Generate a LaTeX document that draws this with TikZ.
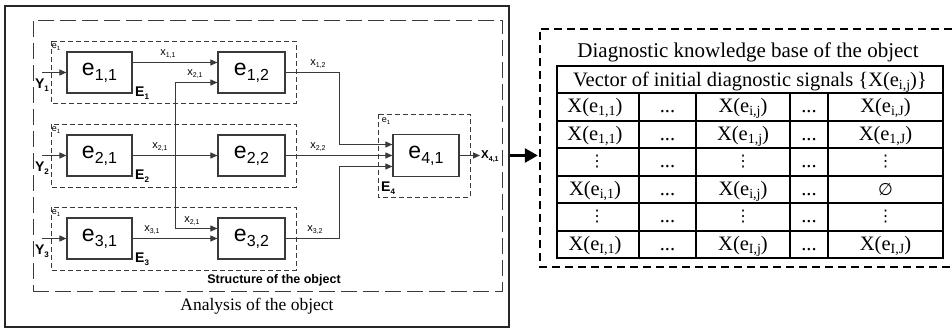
\documentclass[tikz,border=0pt]{standalone}
\usepackage{fontspec}
\setmainfont{Liberation Serif}
\setsansfont{Liberation Sans}
\newfontfamily\symfont{DejaVu Sans}
\usetikzlibrary{arrows.meta}
\definecolor{lineg}{HTML}{3A3A3A}
\newcommand\setfs[1]{\fontsize{#1}{#1}\selectfont}
\newcommand\subx[3]{\raisebox{#1}{\fontsize{#2}{#2}\selectfont #3}}
\begin{document}
\begin{tikzpicture}[x=1pt,y=-1pt,
  elem/.style={draw=lineg, line width=1.1pt, minimum width=65pt, minimum height=41pt, inner sep=0pt, font=\sffamily\setfs{23}},
  ebox/.style={draw=lineg, line width=0.9pt, dash pattern=on 5pt off 3pt},
  sbox/.style={draw=lineg, line width=0.9pt, dash pattern=on 16pt off 6pt},
  sig/.style={draw=lineg, line width=0.9pt, -{Triangle[length=7pt,width=6pt]}},
  wire/.style={draw=lineg, line width=0.9pt},
  xlab/.style={font=\sffamily\setfs{11}, inner sep=0pt},
  elab/.style={font=\sffamily\setfs{9}, inner sep=0pt},
  blab/.style={font=\sffamily\bfseries\setfs{14}, inner sep=0pt},
  cell/.style={font=\setfs{20.5}, inner sep=0pt, anchor=base},
  dcell/.style={font=\symfont\setfs{16}, inner sep=0pt, anchor=center},
  tline/.style={draw=black, line width=2pt},
  bigarr/.style={draw=black, line width=2.6pt, -{Triangle[length=13pt,width=14pt]}}
]
\useasboundingbox (0,0) rectangle (952,328);

% outer analysis box and structure box
\node[draw=black!85, line width=1.2pt, minimum width=504pt, minimum height=321pt, inner sep=0pt] (outer) at (257,166.5) {};
\node[sbox, minimum width=469pt, minimum height=271pt, inner sep=0pt] (struct) at (267.5,155.5) {};
\node[font=\setfs{17.5}, inner sep=0pt] (analysis) at (257,306) {Analysis of the object};
\node[font=\sffamily\bfseries\setfs{12.5}, inner sep=0pt] (structlab) at (274,280) {Structure of the object};

% E boxes
\draw[ebox] (51,41) rectangle (296,103);
\draw[ebox] (51,124) rectangle (296,187);
\draw[ebox] (51,207) rectangle (296,270);
\draw[ebox] (378,114) rectangle (470,197);

% elements
\node[elem] (e11) at (99.5,72.5) {e\subx{-5pt}{16}{1,1}};
\node[elem, minimum width=67pt] (e12) at (251.5,72.5) {e\subx{-5pt}{16}{1,2}};
\node[elem] (e21) at (99.5,155.5) {e\subx{-5pt}{16}{2,1}};
\node[elem, minimum width=67pt] (e22) at (251.5,155.5) {e\subx{-5pt}{16}{2,2}};
\node[elem] (e31) at (99.5,238.5) {e\subx{-5pt}{16}{3,1}};
\node[elem, minimum width=67pt] (e32) at (251.5,238.5) {e\subx{-5pt}{16}{3,2}};
\node[elem, minimum width=66pt, minimum height=42pt] (e41) at (426,155.5) {e\subx{-5pt}{16}{4,1}};

% small e_1 labels and E labels
\node[elab] (l1) at (56,47) {e\subx{-2pt}{6}{1}};
\node[elab] (l2) at (56,130) {e\subx{-2pt}{6}{1}};
\node[elab] (l3) at (56,213) {e\subx{-2pt}{6}{1}};
\node[elab] (l4) at (386,121) {e\subx{-2pt}{6}{1}};
\node[blab, anchor=west] (E1) at (135,93) {E\subx{-3pt}{8}{1}};
\node[blab, anchor=west] (E2) at (135,176) {E\subx{-3pt}{8}{2}};
\node[blab, anchor=west] (E3) at (135,259) {E\subx{-3pt}{8}{3}};
\node[blab, anchor=west] (E4) at (381,188) {E\subx{-3pt}{8}{4}};

% inputs
\coordinate (y1) at (42,72.5);
\coordinate (y2) at (42,155.5);
\coordinate (y3) at (42,238.5);
\draw[sig] (y1) -- (e11.west);
\draw[sig] (y2) -- (e21.west);
\draw[sig] (y3) -- (e31.west);
\node[blab] (Y1) at (42,85) {Y\subx{-3pt}{8}{1}};
\node[blab] (Y2) at (42,168) {Y\subx{-3pt}{8}{2}};
\node[blab] (Y3) at (42,251) {Y\subx{-3pt}{8}{3}};

% internal signals
\draw[sig] ([yshift=10pt]e11.east) -- ([yshift=10pt]e12.west);
\node[xlab] (lx11) at (168,54) {x\subx{-2.5pt}{7}{1,1}};
\draw[sig] (e21.east) -- (e22.west);
\node[xlab] (lx21a) at (160,147) {x\subx{-2.5pt}{7}{2,1}};
\coordinate (br) at (175,155.5);
\draw[sig] (br) |- ([yshift=-10pt]e12.west);
\node[xlab] (lx21b) at (195,74) {x\subx{-2.5pt}{7}{2,1}};
\draw[sig] (br) |- ([yshift=10pt]e32.west);
\node[xlab] (lx21c) at (192,221) {x\subx{-2.5pt}{7}{2,1}};
\draw[sig] (e31.east) -- (e32.west);
\node[xlab] (lx31) at (152,230) {x\subx{-2.5pt}{7}{3,1}};

% to e41
\coordinate (j) at (339,0);
\draw[sig] (e12.east) -- (e12.east -| j) |- ([yshift=11pt]e41.west);
\node[xlab] (lx12) at (318,64) {x\subx{-2.5pt}{7}{1,2}};
\draw[sig] (e22.east) -- (e41.west);
\node[xlab] (lx22) at (318,147) {x\subx{-2.5pt}{7}{2,2}};
\draw[sig] (e32.east) -- (e32.east -| j) |- ([yshift=-11pt]e41.west);
\node[xlab] (lx32) at (315,230) {x\subx{-2.5pt}{7}{3,2}};

% output
\node[font=\sffamily\bfseries\setfs{11.5}, inner sep=1pt, anchor=west] (X41) at (480,157) {X\subx{-3pt}{7}{4,1}};
\draw[sig] (e41.east) -- (X41.west |- e41.east);

% knowledge base box
\node[minimum width=412pt, minimum height=238pt, inner sep=0pt] (kb) at (746,148) {};
\draw[draw=black, line width=1.8pt, dash pattern=on 8pt off 5pt] (kb.north east) -- (kb.north west) -- (kb.south west) -- (kb.south east);
\draw[bigarr, shorten >=2pt] (outer.east |- e41.center) -- (kb.west |- e41.center);

\node[font=\setfs{21}, inner sep=0pt, anchor=base] (kbt) at (748,58) {Diagnostic knowledge base of the object};

% table grid
\draw[tline] (557,66) rectangle (943,258.5);
\foreach \yy in {93.5,121,148.5,176,203.5,231} \draw[tline] (557,\yy) -- (943,\yy);
\foreach \xx in {639,696,790,828} \draw[tline] (\xx,93.5) -- (\xx,258.5);

\node[cell] (hdr) at (750,86.5) {Vector of initial diagnostic signals \{X(e\subx{-3pt}{14}{i,j})\}};

\node[cell] (c11) at (595,113) {X(e\subx{-3pt}{14}{1,1})};
\node[cell] (c12) at (667.5,113) {...};
\node[cell] (c13) at (743,113) {X(e\subx{-3pt}{14}{i,j})};
\node[cell] (c14) at (809,113) {...};
\node[cell] (c15) at (885.5,113) {X(e\subx{-3pt}{14}{i,J})};

\node[cell] (c21) at (595,140.5) {X(e\subx{-3pt}{14}{1,1})};
\node[cell] (c22) at (667.5,140.5) {...};
\node[cell] (c23) at (743,140.5) {X(e\subx{-3pt}{14}{1,j})};
\node[cell] (c24) at (809,140.5) {...};
\node[cell] (c25) at (885.5,140.5) {X(e\subx{-3pt}{14}{1,J})};

\node[dcell] (c31) at (597,162) {⋮};
\node[cell] (c32) at (667.5,168) {...};
\node[dcell] (c33) at (743,162) {⋮};
\node[cell] (c34) at (809,168) {...};
\node[dcell] (c35) at (885.5,162) {⋮};

\node[cell] (c41) at (595,195.5) {X(e\subx{-3pt}{14}{i,1})};
\node[cell] (c42) at (667.5,195.5) {...};
\node[cell] (c43) at (743,195.5) {X(e\subx{-3pt}{14}{i,j})};
\node[cell] (c44) at (809,195.5) {...};
\node[dcell, font=\symfont\setfs{17}] (c45) at (885.5,189.5) {∅};

\node[dcell] (c51) at (597,217) {⋮};
\node[cell] (c52) at (667.5,223) {...};
\node[dcell] (c53) at (743,217) {⋮};
\node[cell] (c54) at (809,223) {...};
\node[dcell] (c55) at (885.5,217) {⋮};

\node[cell] (c61) at (595,250.5) {X(e\subx{-3pt}{14}{I,1})};
\node[cell] (c62) at (667.5,250.5) {...};
\node[cell] (c63) at (743,250.5) {X(e\subx{-3pt}{14}{I,j})};
\node[cell] (c64) at (809,250.5) {...};
\node[cell] (c65) at (885.5,250.5) {X(e\subx{-3pt}{14}{I,J})};
\end{tikzpicture}
\end{document}
